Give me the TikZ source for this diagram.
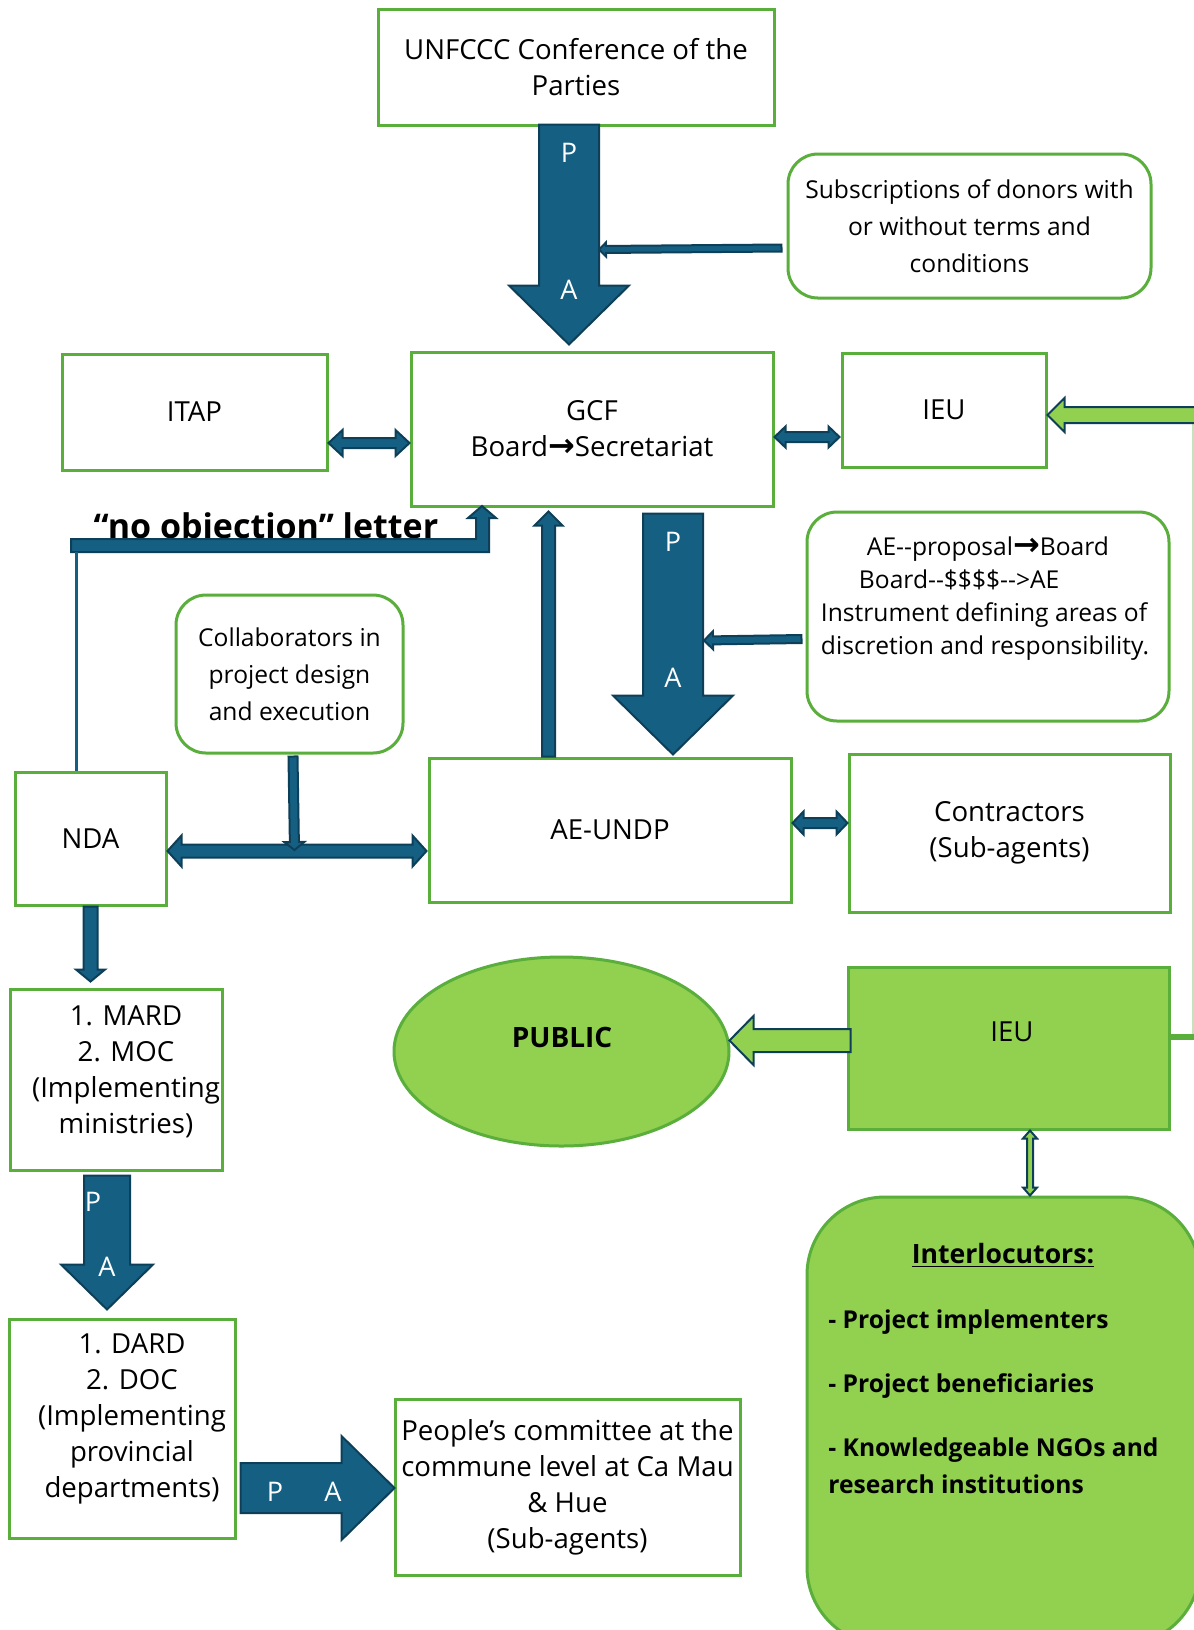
\documentclass[tikz,border=0pt]{standalone}
\usepackage{fontspec}
\setmainfont{Open Sans}
\newfontfamily\arrowfont{DejaVu Sans}
\usepackage{tikz}
\usetikzlibrary{calc}
\usetikzlibrary{shapes.geometric}

\definecolor{boxgreen}{HTML}{5AAE3C}
\definecolor{lightgreen}{HTML}{92D050}
\definecolor{arrfill}{HTML}{156082}
\definecolor{arrline}{HTML}{0E3F58}

\newcommand{\thickto}{{\arrowfont\bfseries\fontsize{16}{16}\selectfont →}}

% block arrow: [style]{from}{to}{half shaft}{half head}{head length}
\newcommand{\blkarrow}[6][]{%
  \coordinate (hb) at ($(#3)!#6!(#2)$);
  \draw[blockarr,#1] ($(#2)!#4!90:(#3)$) -- ($(hb)!#4!90:(#3)$) -- ($(hb)!#5!90:(#3)$)
    -- (#3) -- ($(hb)!#5!-90:(#3)$) -- ($(hb)!#4!-90:(#3)$) -- ($(#2)!#4!-90:(#3)$) -- cycle;}
% same with a head at both ends
\newcommand{\dblarrow}[6][]{%
  \coordinate (ha) at ($(#2)!#6!(#3)$);
  \coordinate (hb) at ($(#3)!#6!(#2)$);
  \draw[blockarr,#1] (#2) -- ($(ha)!#5!90:(#3)$) -- ($(ha)!#4!90:(#3)$) -- ($(hb)!#4!90:(#3)$)
    -- ($(hb)!#5!90:(#3)$) -- (#3) -- ($(hb)!#5!-90:(#3)$) -- ($(hb)!#4!-90:(#3)$)
    -- ($(ha)!#4!-90:(#3)$) -- ($(ha)!#5!-90:(#3)$) -- cycle;}

\begin{document}
\begin{tikzpicture}[x=0.5pt,y=-0.5pt,
  box/.style={draw=boxgreen,line width=1.5pt,rectangle,inner sep=0pt,align=center,
    font=\fontsize{13.8}{18}\selectfont},
  rbox/.style={box,rounded corners=15pt,font=\fontsize{12.3}{18.5}\selectfont},
  gbox/.style={box,fill=lightgreen},
  txt/.style={align=center,inner sep=0pt,font=\fontsize{13.8}{18}\selectfont},
  pa/.style={text=white,inner sep=0pt,font=\fontsize{13.5}{15}\selectfont},
  blockarr/.style={draw=arrline,fill=arrfill,line width=1pt,line join=miter},
  greenarr/.style={fill=lightgreen},
  thinline/.style={draw=arrfill,line width=1.5pt}]
\useasboundingbox (0,0) rectangle (1194,1630);
\clip (0,0) rectangle (1194,1630);
\fill[white] (0,0) rectangle (1194,1630);

% boxes
\node[box,minimum width=198pt,minimum height=58pt] (cop) at (576,67) {UNFCCC Conference of the\\Parties};
\node[rbox,minimum width=181.5pt,minimum height=72pt] (subs) at (969.5,226) {Subscriptions of donors with\\or without terms and\\conditions};
\node[box,minimum width=181pt,minimum height=77pt] (gcf) at (592,429) {GCF\\Board\thickto Secretariat};
\node[box,minimum width=132.5pt,minimum height=58pt] (itap) at (194.5,412) {ITAP};
\node[box,minimum width=102pt,minimum height=57pt] (ieu1) at (944,410) {IEU};
\node[rbox,minimum width=113.5pt,minimum height=79pt] (collab) at (289.5,674) {Collaborators in\\project design\\and execution};
\node[rbox,minimum width=181pt,minimum height=104.5pt] (aep) at (988,616.5) {};
\node[align=left,inner sep=0pt,font=\fontsize{12.3}{16.5}\selectfont] (aept) at (985,598.5)
  {\hspace{23pt}AE-{}-proposal\thickto Board\\\hspace{19pt}Board-{}-\$\$\$\$-{}->AE\\Instrument defining areas of\\discretion and responsibility.};
\node[box,minimum width=181pt,minimum height=72pt] (ae) at (610,830) {AE-UNDP};
\node[box,minimum width=160.5pt,minimum height=79pt] (con) at (1009.5,833) {Contractors\\(Sub-agents)};
\node[box,minimum width=75.5pt,minimum height=66.5pt] (nda) at (90.5,838.5) {NDA};
\node[box,minimum width=106pt,minimum height=90.5pt] (mard) at (116,1079.5) {};
\node[txt] (mardt) at (126,1072) {1. MARD\\2. MOC\\(Implementing\\ministries)};
\node[box,minimum width=113pt,minimum height=109.5pt] (dard) at (122,1428.5) {};
\node[txt] (dardt) at (132,1419) {1. DARD\\2. DOC\\(Implementing\\provincial\\departments)};
\node[box,minimum width=172.5pt,minimum height=88pt] (ppl) at (567.5,1487) {People’s committee at the\\commune level at Ca Mau\\\& Hue\\(Sub-agents)};
\node[ellipse,draw=boxgreen,fill=lightgreen,line width=1.5pt,inner sep=0pt,
  minimum width=167.5pt,minimum height=94.5pt] (pub) at (561.5,1051.5) {};
\node[inner sep=0pt,font=\bfseries\fontsize{14}{16}\selectfont] (pubt) at (562,1037) {PUBLIC};
\node[gbox,minimum width=160.5pt,minimum height=81pt] (ieu2) at (1008.5,1048) {};
\node[txt] (ieu2t) at (1012,1032) {IEU};
\node[gbox,rounded corners=39pt,minimum width=196.5pt,minimum height=224pt] (inter) at (1003.5,1421) {};
\node[inner sep=0pt,anchor=base,font=\bfseries\fontsize{13.3}{18}\selectfont] (intert) at (1003,1263) {\underline{Interlocutors:}};
% base of a node with several lines is the base of its last line
\node[inner sep=0pt,anchor=base west,align=left,font=\bfseries\fontsize{12.3}{18.5}\selectfont] (interl) at (828,1493)
  {- Project implementers\\[13.5pt]- Project beneficiaries\\[13.5pt]- Knowledgeable NGOs and\\research institutions};

% letter of no objection
\node[inner sep=0pt,anchor=base,font=\bfseries\fontsize{17}{20}\selectfont] (noobj) at (266,538) {“no objection” letter};
\draw[blockarr] (71,539) -- (476,539) -- (476,518) -- (468,518) -- (482,506) -- (496,518)
  -- (489,518) -- (489,552) -- (71,552) -- cycle;
\coordinate (nl) at (76,552);
\draw[thinline] (nda.north -| nl) -- (nl);

% arrow end points
\coordinate (a1s) at ($(cop.south)+(-7,-2)$);
\coordinate (a1e) at ($(gcf.north)+(-23,-6)$);
\coordinate (s1s) at ($(subs.west)+(-5,22)$);
\coordinate (s1e) at ($(a1s)+(30,125)$);
\coordinate (a2s) at ($(gcf.south)+(81,6)$);
\coordinate (a2e) at ($(ae.north)+(63,-2)$);
\coordinate (e1s) at ($(aep.west)+(-4,22.5)$);
\coordinate (e1e) at ($(a2s)+(31,127)$);
\coordinate (upS) at ($(ae.north)+(-61.5,0)$);
\coordinate (upE) at ($(gcf.south)+(-43.5,4)$);
\coordinate (itR) at ($(itap.east)+(0,31)$);
\coordinate (gcL) at ($(gcf.west)+(0,14)$);
\coordinate (gcR) at ($(gcf.east)+(0,8)$);
\coordinate (ieL) at ($(ieu1.west)+(-1,27)$);
\coordinate (ieR) at ($(ieu1.east)+(0,5)$);
\coordinate (far) at (1215,415);
\coordinate (ndR) at ($(nda.east)+(0,12.5)$);
\coordinate (aeL) at ($(ae.west)+(-1,21)$);
\coordinate (clS) at ($(collab.south)+(3.5,2)$);
\coordinate (clE) at ($(nda.east)+(127,11.5)$);
\coordinate (aeR) at ($(ae.east)+(0,-7)$);
\coordinate (coL) at ($(con.west)+(0,-10)$);
\coordinate (ndS) at (nda.south);
\coordinate (mdN) at ($(mard.north)+(-25.5,-6)$);
\coordinate (a3s) at ($(mard.south)+(-9,4)$);
\coordinate (a3e) at ($(dard.north)+(-15,-8)$);
\coordinate (a4s) at ($(dard.east)+(4,59.5)$);
\coordinate (a4e) at ($(ppl.west)+(1,1)$);
\coordinate (gpS) at ($(ieu2.west)+(4,-7.5)$);
\coordinate (gpE) at ($(pub.east)+(-1,-11)$);
\coordinate (iiS) at ($(ieu2.south)+(21.5,0)$);
\coordinate (iiE) at ($(inter.north)+(26.5,0)$);
\coordinate (rc) at (1193,1037);

% right hand connector
\draw[boxgreen!35,line width=1pt] (rc) -- (1193,423);
\draw[boxgreen,line width=3pt] (ieu2.east |- rc) -- (1200,1037);

% arrows
\blkarrow{a1s}{a1e}{15pt}{30pt}{29.5pt}
\blkarrow{s1s}{s1e}{1.75pt}{3.5pt}{3.5pt}
\blkarrow{a2s}{a2e}{15pt}{30pt}{29.5pt}
\blkarrow{e1s}{e1e}{2pt}{4.5pt}{4.5pt}
\blkarrow{upS}{upE}{3.25pt}{7pt}{7pt}
\dblarrow{itR}{gcL}{2.5pt}{6.5pt}{7pt}
\dblarrow{gcR}{ieL}{2.5pt}{5.25pt}{5.5pt}
\blkarrow[greenarr]{far}{ieR}{4pt}{8.5pt}{8.5pt}
\dblarrow{ndR}{aeL}{3.25pt}{7.75pt}{7pt}
\blkarrow{clS}{clE}{2.25pt}{5pt}{4pt}
\dblarrow{aeR}{coL}{2.5pt}{5.75pt}{5.5pt}
\blkarrow{ndS}{mdN}{3.5pt}{7.25pt}{6pt}
\blkarrow{a3s}{a3e}{11.5pt}{23pt}{22.5pt}
\blkarrow{a4s}{a4e}{12.5pt}{26pt}{26.5pt}
\blkarrow[greenarr]{gpS}{gpE}{5.75pt}{12.25pt}{12pt}
\dblarrow[greenarr]{iiS}{iiE}{1.5pt}{3.5pt}{4pt}

% principal / agent labels
\node[pa] (p1) at (569,153) {P};
\node[pa] (q1) at (569,290) {A};
\node[pa] (p2) at (673,542) {P};
\node[pa] (q2) at (673,678) {A};
\node[pa] (p3) at (93,1202) {P};
\node[pa] (q3) at (107,1267) {A};
\node[pa] (p4) at (275,1492) {P};
\node[pa] (q4) at (333,1492) {A};
\end{tikzpicture}
\end{document}
